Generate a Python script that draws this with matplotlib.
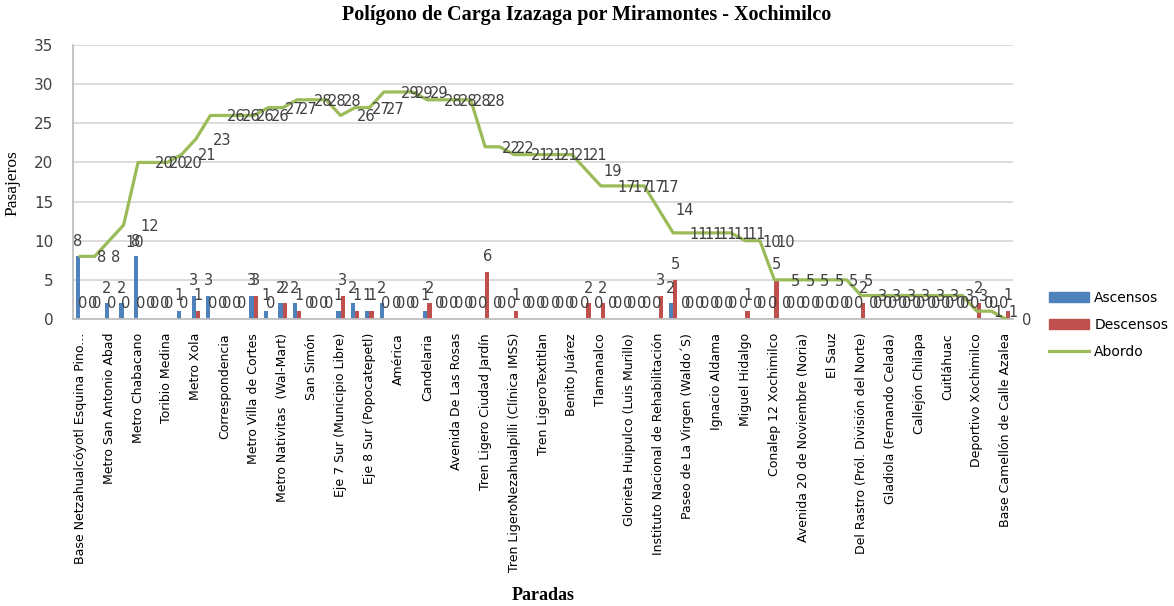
import matplotlib
matplotlib.use("Agg")
import matplotlib.pyplot as plt
from matplotlib.patches import Patch
from matplotlib.lines import Line2D
import numpy as np

# paradas visibles en el eje (una de cada dos)
paradas = ['Base Netzahualcóyotl Esquina Pino...', 'Metro San Antonio Abad', 'Metro Chabacano',
           'Toribio Medina', 'Metro Xola', 'Correspondencia', 'Metro Villa de Cortes',
           'Metro Nativitas  (Wal-Mart)', 'San Simón', 'Eje 7 Sur (Municipio Libre)',
           'Eje 8 Sur (Popocatepetl)', 'América', 'Candelaria', 'Avenida De Las Rosas',
           'Tren Ligero Ciudad Jardín', 'Tren LigeroNezahualpilli (Clínica IMSS)',
           'Tren LigeroTextitlan', 'Benito Juárez', 'Tlamanalco', 'Glorieta Huipulco (Luis Murillo)',
           'Instituto Nacional de Rehabilitación', "Paseo de La Virgen (Waldo´S)",
           'Ignacio Aldama', 'Miguel Hidalgo', 'Conalep 12 Xochimilco',
           'Avenida 20 de Noviembre (Noria)', 'El Sauz', 'Del Rastro (Pról. División del Norte)',
           'Gladiola (Fernando Celada)', 'Callejón Chilapa', 'Cuitláhuac',
           'Deportivo Xochimilco', 'Base Camellón de Calle Azalea']

ascensos = [8, 0, 2, 2, 8, 0, 0, 1, 3, 3,
            0, 0, 3, 1, 2, 2, 0, 0, 1, 2,
            1, 2, 0, 0, 1, 0, 0, 0, 0, 0,
            0, 0, 0, 0, 0, 0, 0, 0, 0, 0,
            0, 2, 0, 0, 0, 0, 0, 0, 0, 0,
            0, 0, 0, 0, 0, 0, 0, 0, 0, 0,
            0, 0, 0, 0, 0]
descensos = [0, 0, 0, 0, 0, 0, 0, 0, 1, 0,
             0, 0, 3, 0, 2, 1, 0, 0, 3, 1,
             1, 0, 0, 0, 2, 0, 0, 0, 6, 0,
             1, 0, 0, 0, 0, 2, 2, 0, 0, 0,
             3, 5, 0, 0, 0, 0, 1, 0, 5, 0,
             0, 0, 0, 0, 2, 0, 0, 0, 0, 0,
             0, 0, 2, 0, 1]
abordo = [8, 8, 10, 12, 20, 20, 20, 21, 23, 26,
          26, 26, 26, 27, 27, 28, 28, 28, 26, 27,
          27, 29, 29, 29, 28, 28, 28, 28, 22, 22,
          21, 21, 21, 21, 21, 19, 17, 17, 17, 17,
          14, 11, 11, 11, 11, 11, 10, 10, 5, 5,
          5, 5, 5, 5, 3, 3, 3, 3, 3, 3,
          3, 3, 1, 1, 0]

azul = '#4F81BD'
rojo = '#C0504D'
verde = '#9BBB59'
gris = '#404040'

fig = plt.figure(figsize=(11.74, 6.06), dpi=100)
ax = fig.add_axes([73 / 1174, 1 - 319 / 606, 940 / 1174, 274 / 606])

x = np.arange(len(abordo))
w = 0.3
b1 = ax.bar(x - w / 2, ascensos, w, color=azul, zorder=2)
b2 = ax.bar(x + w / 2, descensos, w, color=rojo, zorder=2)
ax.plot(x, abordo, color=verde, lw=2.3, zorder=3)

# etiquetas de datos
for xi, v in zip(x, ascensos):
    ax.annotate(str(v), (xi - w / 2, v), xytext=(0, 11), textcoords='offset points',
                ha='center', va='center', fontsize=10.5, color=gris, zorder=4)
for xi, v in zip(x, descensos):
    ax.annotate(str(v), (xi + w / 2, v), xytext=(0, 11), textcoords='offset points',
                ha='center', va='center', fontsize=10.5, color=gris, zorder=4)
for xi, v in zip(x, abordo):
    ax.annotate(str(v), (xi, v), xytext=(12, -1), textcoords='offset points',
                ha='left', va='center', fontsize=10.5, color=gris, zorder=4,
                annotation_clip=False)

ax.set_xlim(-0.5, len(abordo) - 0.5)
ax.set_ylim(0, 35)
ax.set_yticks(range(0, 36, 5))
ax.yaxis.grid(True, color='#D9D9D9', lw=1.3, zorder=0)
ax.set_axisbelow(True)
for s in ['top', 'right']:
    ax.spines[s].set_visible(False)
ax.spines['left'].set_color('#BFBFBF')
ax.spines['bottom'].set_color('#BFBFBF')
ax.spines['left'].set_linewidth(1.3)
ax.spines['bottom'].set_linewidth(1.3)
ax.tick_params(axis='y', length=0, pad=14, labelsize=11, labelcolor=gris)
ax.set_xticks(x[::2])
ax.set_xticklabels(paradas, rotation=90, fontsize=9, color='black')
ax.tick_params(axis='x', length=0, pad=10)

fig.text(587 / 1174, 1 - 15 / 606, 'Polígono de Carga Izazaga por Miramontes - Xochimilco',
         ha='center', va='center', fontsize=14.5, fontweight='bold', family='Liberation Serif')
fig.text(12 / 1174, 1 - 183 / 606, 'Pasajeros', rotation=90, ha='center', va='center',
         fontsize=12.5, family='Liberation Serif')
fig.text(543 / 1174, 1 - 595 / 606, 'Paradas', ha='center', va='center',
         fontsize=13, fontweight='bold', family='Liberation Serif')

handles = [Patch(color=azul), Patch(color=rojo), Line2D([], [], color=verde, lw=2.3)]
fig.legend(handles, ['Ascensos', 'Descensos', 'Abordo'], loc='center left',
           bbox_to_anchor=(1036 / 1174, 1 - 325 / 606), frameon=False, fontsize=10,
           handlelength=2.9, labelspacing=0.95, handletextpad=0.4)

plt.savefig('out.png', dpi=100)
